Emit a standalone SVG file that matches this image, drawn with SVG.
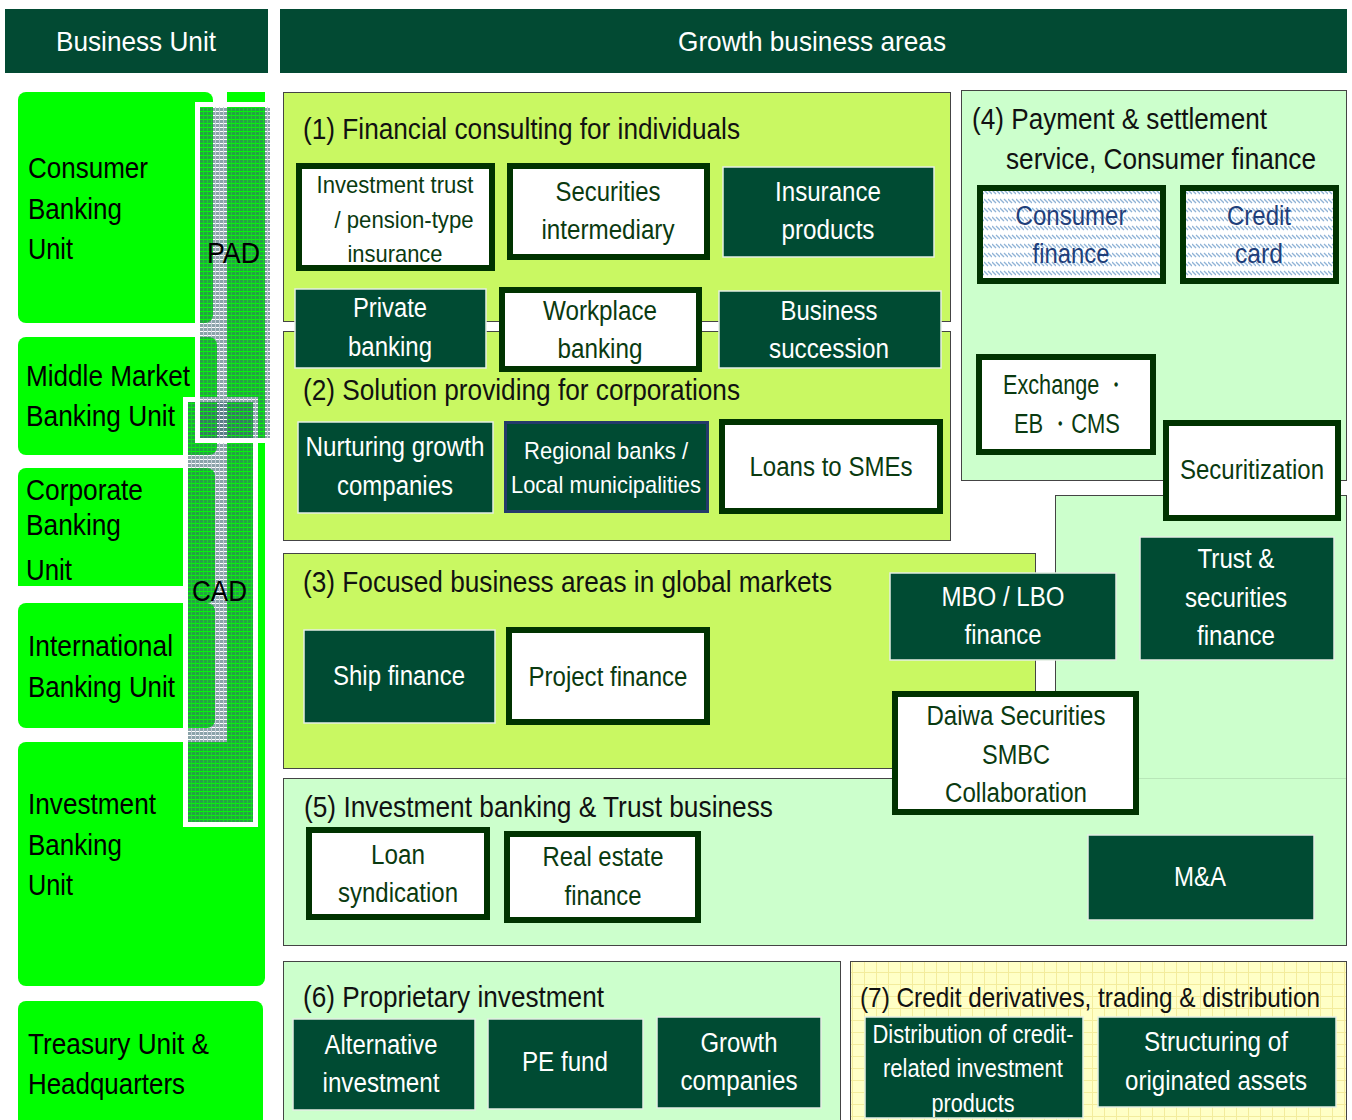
<svg xmlns="http://www.w3.org/2000/svg" width="1352" height="1120" viewBox="0 0 1352 1120">
<defs>
<pattern id="grid" width="4" height="4" patternUnits="userSpaceOnUse">
<rect x="0" y="0" width="3" height="3" fill="#3c6470" fill-opacity="0.6"/>
<rect x="3" y="0" width="1" height="4" fill="#50708a" fill-opacity="0.35"/>
</pattern>
<pattern id="hatch" width="8" height="9" patternUnits="userSpaceOnUse">
<rect width="8" height="9" fill="#ffffff"/>
<line x1="0" y1="1" x2="4" y2="5" stroke="#8fb3d6" stroke-width="1.3"/>
<line x1="4" y1="1" x2="8" y2="5" stroke="#8fb3d6" stroke-width="1.3"/>
</pattern>
<pattern id="ygrid" width="12" height="12" patternUnits="userSpaceOnUse">
<rect width="12" height="12" fill="#ffffc6"/>
<path d="M0 0.5H12M0.5 0V12" stroke="#f3ec9c" stroke-width="1"/>
</pattern>
<style>
text{font-family:"Liberation Sans Narrow","Arial Narrow","Liberation Sans",Arial,sans-serif;}
.hd{fill:#024a33;}
.hdt{fill:#ffffff;font-size:28px;text-anchor:middle;}
.unit{fill:#00ff00;}
.ut{fill:#000000;font-size:30px;}
.area{stroke:#444444;stroke-width:1;}
.lime{fill:#c9f862;}
.mint{fill:#ccffcc;}
.at{fill:#111111;font-size:30px;}
.dk{fill:#004b33;stroke:#e4eee4;stroke-width:1.5;}
.wh{fill:#ffffff;stroke:#003300;stroke-width:6;}
.ht{fill:url(#hatch);stroke:#003300;stroke-width:6;}
.tw{fill:#ffffff;font-size:27px;text-anchor:middle;}
.tg{fill:#0a3a10;font-size:27px;text-anchor:middle;}
.tb{fill:#1f3f7a;font-size:27px;text-anchor:middle;}
.sm{font-size:24px;}
.ov{fill:url(#grid);stroke:#ffffff;stroke-width:5;}
</style>
</defs>
<rect width="1352" height="1120" fill="#ffffff"/>

<g id="header-business-unit">
<rect class="hd" x="5" y="9" width="263" height="64"/>
<text class="hdt" x="136" y="51" textLength="160" lengthAdjust="spacingAndGlyphs">Business Unit</text>
</g>
<g id="header-growth">
<rect class="hd" x="280" y="9" width="1067" height="64"/>
<text class="hdt" x="812" y="51" textLength="268" lengthAdjust="spacingAndGlyphs">Growth business areas</text>
</g>

<g id="business-units">
<rect class="unit" x="227" y="92" width="38" height="880"/>
<g id="unit-consumer">
<rect class="unit" x="18" y="92" width="195" height="231" rx="8"/>
<text class="ut" x="28" y="178" textLength="120" lengthAdjust="spacingAndGlyphs">Consumer</text>
<text class="ut" x="28" y="219" textLength="94" lengthAdjust="spacingAndGlyphs">Banking</text>
<text class="ut" x="28" y="259" textLength="45" lengthAdjust="spacingAndGlyphs">Unit</text>
</g>
<g id="unit-middle">
<rect class="unit" x="18" y="337" width="199" height="118" rx="8"/>
<text class="ut" x="26" y="386" textLength="164" lengthAdjust="spacingAndGlyphs">Middle Market</text>
<text class="ut" x="26" y="426" textLength="149" lengthAdjust="spacingAndGlyphs">Banking Unit</text>
</g>
<g id="unit-corporate">
<rect class="unit" x="18" y="468" width="197" height="135" rx="8"/>
<rect fill="#ffffff" x="18" y="586" width="166" height="17"/>
<text class="ut" x="26" y="500" textLength="117" lengthAdjust="spacingAndGlyphs">Corporate</text>
<text class="ut" x="26" y="535" textLength="95" lengthAdjust="spacingAndGlyphs">Banking</text>
<text class="ut" x="26" y="580" textLength="46" lengthAdjust="spacingAndGlyphs">Unit</text>
</g>
<g id="unit-international">
<rect class="unit" x="18" y="603" width="197" height="125" rx="8"/>
<text class="ut" x="28" y="656" textLength="145" lengthAdjust="spacingAndGlyphs">International</text>
<text class="ut" x="28" y="697" textLength="147" lengthAdjust="spacingAndGlyphs">Banking Unit</text>
</g>
<g id="unit-investment">
<rect class="unit" x="18" y="742" width="247" height="244" rx="8"/>
<text class="ut" x="28" y="814" textLength="128" lengthAdjust="spacingAndGlyphs">Investment</text>
<text class="ut" x="28" y="855" textLength="94" lengthAdjust="spacingAndGlyphs">Banking</text>
<text class="ut" x="28" y="895" textLength="45" lengthAdjust="spacingAndGlyphs">Unit</text>
</g>
<g id="unit-treasury">
<rect class="unit" x="18" y="1001" width="245" height="130" rx="8"/>
<text class="ut" x="28" y="1054" textLength="181" lengthAdjust="spacingAndGlyphs">Treasury Unit &amp;</text>
<text class="ut" x="28" y="1094" textLength="157" lengthAdjust="spacingAndGlyphs">Headquarters</text>
</g>
<g id="cad">
<rect class="ov" x="185.5" y="399.5" width="70" height="425"/>
<text class="ut" x="192" y="601" textLength="55" lengthAdjust="spacingAndGlyphs">CAD</text>
</g>
<g id="pad">
<rect class="ov" x="197.5" y="104.5" width="75" height="336"/>
<text class="ut" x="207" y="263" textLength="53" lengthAdjust="spacingAndGlyphs">PAD</text>
</g>
</g>

<g id="areas">
<g id="area-1">
<rect class="area lime" x="283.5" y="92.5" width="667" height="229"/>
<text class="at" x="303" y="139" textLength="437" lengthAdjust="spacingAndGlyphs">(1) Financial consulting for individuals</text>
</g>
<g id="area-2">
<rect class="area lime" x="283.5" y="331.5" width="667" height="209"/>
<text class="at" x="303" y="400" textLength="437" lengthAdjust="spacingAndGlyphs">(2) Solution providing for corporations</text>
</g>
<g id="area-4">
<rect class="area mint" x="961.5" y="90.5" width="385" height="390"/>
<text class="at" x="972" y="129" textLength="295" lengthAdjust="spacingAndGlyphs">(4) Payment &amp; settlement</text>
<text class="at" x="1006" y="169" textLength="310" lengthAdjust="spacingAndGlyphs">service, Consumer finance</text>
</g>
<g id="area-4b">
<rect class="area mint" x="1055.5" y="495.5" width="291" height="290"/>
</g>
<g id="area-3">
<rect class="area lime" x="283.5" y="553.5" width="752" height="215"/>
<text class="at" x="303" y="592" textLength="529" lengthAdjust="spacingAndGlyphs">(3) Focused business areas in global markets</text>
</g>
<g id="area-5">
<rect class="area mint" x="283.5" y="778.5" width="1063" height="167"/>
<line x1="1056" y1="778.5" x2="1346" y2="778.5" stroke="#b8e6b8" stroke-width="1"/>
<text class="at" x="304" y="817" textLength="469" lengthAdjust="spacingAndGlyphs">(5) Investment banking &amp; Trust business</text>
</g>
<g id="area-6">
<rect class="area mint" x="283.5" y="961.5" width="557" height="170"/>
<text class="at" x="303" y="1007" textLength="301" lengthAdjust="spacingAndGlyphs">(6) Proprietary investment</text>
</g>
<g id="area-7">
<rect class="area" fill="url(#ygrid)" x="850.5" y="961.5" width="496" height="170"/>
<text class="at" x="860" y="1007" style="font-size:28px" textLength="460" lengthAdjust="spacingAndGlyphs">(7) Credit derivatives, trading &amp; distribution</text>
</g>
</g>

<g id="connectors"></g>

<g id="nodes">
<g id="n-investment-trust">
<rect class="wh" x="299" y="166" width="193" height="102"/>
<text class="tg sm" x="395" y="193" textLength="157" lengthAdjust="spacingAndGlyphs">Investment trust</text>
<text class="tg sm" x="404" y="228" textLength="139" lengthAdjust="spacingAndGlyphs">/ pension-type</text>
<text class="tg sm" x="395" y="262" textLength="95" lengthAdjust="spacingAndGlyphs">insurance</text>
</g>
<g id="n-securities-intermediary">
<rect class="wh" x="510" y="166" width="197" height="91"/>
<text class="tg" x="608" y="201" textLength="105" lengthAdjust="spacingAndGlyphs">Securities</text>
<text class="tg" x="608" y="239" textLength="133" lengthAdjust="spacingAndGlyphs">intermediary</text>
</g>
<g id="n-insurance-products">
<rect class="dk" x="723" y="167" width="211" height="90"/>
<text class="tw" x="828" y="201" textLength="106" lengthAdjust="spacingAndGlyphs">Insurance</text>
<text class="tw" x="828" y="239" textLength="93" lengthAdjust="spacingAndGlyphs">products</text>
</g>
<g id="n-private-banking">
<rect class="dk" x="295" y="289" width="191" height="79"/>
<text class="tw" x="390" y="317" textLength="74" lengthAdjust="spacingAndGlyphs">Private</text>
<text class="tw" x="390" y="356" textLength="84" lengthAdjust="spacingAndGlyphs">banking</text>
</g>
<g id="n-workplace-banking">
<rect class="wh" x="502" y="290" width="197" height="79"/>
<text class="tg" x="600" y="320" textLength="114" lengthAdjust="spacingAndGlyphs">Workplace</text>
<text class="tg" x="600" y="358" textLength="85" lengthAdjust="spacingAndGlyphs">banking</text>
</g>
<g id="n-business-succession">
<rect class="dk" x="719" y="291" width="222" height="77"/>
<text class="tw" x="829" y="320" textLength="97" lengthAdjust="spacingAndGlyphs">Business</text>
<text class="tw" x="829" y="358" textLength="120" lengthAdjust="spacingAndGlyphs">succession</text>
</g>
<g id="n-nurturing-growth">
<rect class="dk" x="298" y="422" width="195" height="91"/>
<text class="tw" x="395" y="456" textLength="179" lengthAdjust="spacingAndGlyphs">Nurturing growth</text>
<text class="tw" x="395" y="495" textLength="116" lengthAdjust="spacingAndGlyphs">companies</text>
</g>
<g id="n-regional-banks">
<rect fill="#004b33" stroke="#243a6a" stroke-width="3" x="505.5" y="422.5" width="202" height="89"/>
<text class="tw sm" x="606" y="459" textLength="164" lengthAdjust="spacingAndGlyphs">Regional banks /</text>
<text class="tw sm" x="606" y="493" textLength="190" lengthAdjust="spacingAndGlyphs">Local municipalities</text>
</g>
<g id="n-loans-smes">
<rect class="wh" x="722" y="422" width="218" height="89"/>
<text class="tg" x="831" y="476" textLength="163" lengthAdjust="spacingAndGlyphs">Loans to SMEs</text>
</g>
<g id="n-ship-finance">
<rect class="dk" x="304" y="630" width="191" height="93"/>
<text class="tw" x="399" y="685" textLength="132" lengthAdjust="spacingAndGlyphs">Ship finance</text>
</g>
<g id="n-project-finance">
<rect class="wh" x="509" y="630" width="198" height="92"/>
<text class="tg" x="608" y="686" textLength="159" lengthAdjust="spacingAndGlyphs">Project finance</text>
</g>
<g id="n-mbo-lbo">
<rect class="dk" x="890" y="573" width="226" height="87"/>
<text class="tw" x="1003" y="606" textLength="123" lengthAdjust="spacingAndGlyphs">MBO / LBO</text>
<text class="tw" x="1003" y="644" textLength="77" lengthAdjust="spacingAndGlyphs">finance</text>
</g>
<g id="n-daiwa">
<rect class="wh" x="895" y="694" width="241" height="118"/>
<text class="tg" x="1016" y="725" textLength="179" lengthAdjust="spacingAndGlyphs">Daiwa Securities</text>
<text class="tg" x="1016" y="764" textLength="68" lengthAdjust="spacingAndGlyphs">SMBC</text>
<text class="tg" x="1016" y="802" textLength="142" lengthAdjust="spacingAndGlyphs">Collaboration</text>
</g>
<g id="n-consumer-finance">
<rect class="ht" x="980" y="188" width="183" height="93"/>
<text class="tb" x="1071" y="225" textLength="111" lengthAdjust="spacingAndGlyphs">Consumer</text>
<text class="tb" x="1071" y="263" textLength="77" lengthAdjust="spacingAndGlyphs">finance</text>
</g>
<g id="n-credit-card">
<rect class="ht" x="1183" y="188" width="153" height="93"/>
<text class="tb" x="1259" y="225" textLength="64" lengthAdjust="spacingAndGlyphs">Credit</text>
<text class="tb" x="1259" y="263" textLength="48" lengthAdjust="spacingAndGlyphs">card</text>
</g>
<g id="n-exchange">
<rect class="wh" x="979" y="357" width="174" height="95"/>
<text class="tg" x="1065" y="394" textLength="124" lengthAdjust="spacingAndGlyphs">Exchange ・</text>
<text class="tg" x="1067" y="433" textLength="106" lengthAdjust="spacingAndGlyphs">EB ・CMS</text>
</g>
<g id="n-securitization">
<rect class="wh" x="1166" y="423" width="172" height="95"/>
<text class="tg" x="1252" y="479" textLength="144" lengthAdjust="spacingAndGlyphs">Securitization</text>
</g>
<g id="n-trust-securities">
<rect class="dk" x="1140" y="537" width="194" height="123"/>
<text class="tw" x="1236" y="568" textLength="77" lengthAdjust="spacingAndGlyphs">Trust &amp;</text>
<text class="tw" x="1236" y="607" textLength="102" lengthAdjust="spacingAndGlyphs">securities</text>
<text class="tw" x="1236" y="645" textLength="78" lengthAdjust="spacingAndGlyphs">finance</text>
</g>
<g id="n-loan-syndication">
<rect class="wh" x="309" y="830" width="178" height="87"/>
<text class="tg" x="398" y="864" textLength="54" lengthAdjust="spacingAndGlyphs">Loan</text>
<text class="tg" x="398" y="902" textLength="120" lengthAdjust="spacingAndGlyphs">syndication</text>
</g>
<g id="n-real-estate">
<rect class="wh" x="507" y="834" width="191" height="86"/>
<text class="tg" x="603" y="866" textLength="121" lengthAdjust="spacingAndGlyphs">Real estate</text>
<text class="tg" x="603" y="905" textLength="77" lengthAdjust="spacingAndGlyphs">finance</text>
</g>
<g id="n-ma">
<rect class="dk" x="1088" y="835" width="226" height="85"/>
<text class="tw" x="1200" y="886" textLength="52" lengthAdjust="spacingAndGlyphs">M&amp;A</text>
</g>
<g id="n-alternative">
<rect class="dk" x="293" y="1019" width="182" height="91"/>
<text class="tw" x="381" y="1054" textLength="113" lengthAdjust="spacingAndGlyphs">Alternative</text>
<text class="tw" x="381" y="1092" textLength="117" lengthAdjust="spacingAndGlyphs">investment</text>
</g>
<g id="n-pe-fund">
<rect class="dk" x="488" y="1019" width="155" height="90"/>
<text class="tw" x="565" y="1071" textLength="86" lengthAdjust="spacingAndGlyphs">PE fund</text>
</g>
<g id="n-growth-companies">
<rect class="dk" x="657" y="1017" width="164" height="91"/>
<text class="tw" x="739" y="1052" textLength="77" lengthAdjust="spacingAndGlyphs">Growth</text>
<text class="tw" x="739" y="1090" textLength="117" lengthAdjust="spacingAndGlyphs">companies</text>
</g>
<g id="n-distribution">
<rect class="dk" x="865" y="1017" width="218" height="101"/>
<text class="tw" x="973" y="1043" style="font-size:25px" textLength="201" lengthAdjust="spacingAndGlyphs">Distribution of credit-</text>
<text class="tw" x="973" y="1077" style="font-size:25px" textLength="180" lengthAdjust="spacingAndGlyphs">related investment</text>
<text class="tw" x="973" y="1112" style="font-size:25px" textLength="83" lengthAdjust="spacingAndGlyphs">products</text>
</g>
<g id="n-structuring">
<rect class="dk" x="1098" y="1017" width="238" height="90"/>
<text class="tw" x="1216" y="1051" textLength="144" lengthAdjust="spacingAndGlyphs">Structuring of</text>
<text class="tw" x="1216" y="1090" textLength="182" lengthAdjust="spacingAndGlyphs">originated assets</text>
</g>
</g>
</svg>
